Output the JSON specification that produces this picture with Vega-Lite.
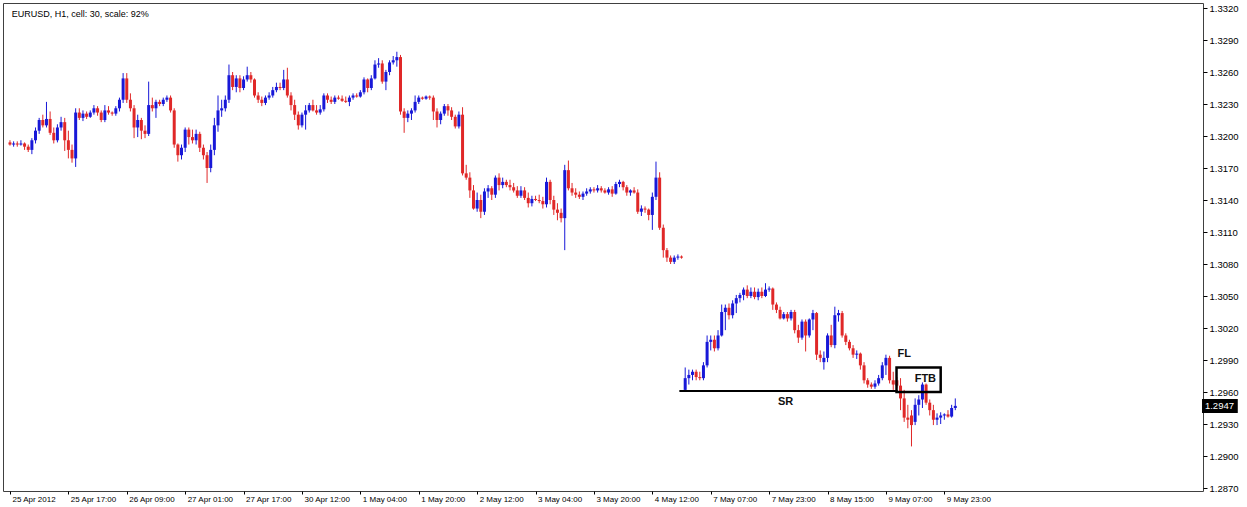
{
"$schema": "https://vega.github.io/schema/vega-lite/v6.json",
"width": 1200, "height": 488,
"autosize": {"type": "none"},
"padding": {"left": 3, "top": 3, "right": 44, "bottom": 16},
"background": "white",
"config": {"view": {"stroke": "#404040", "strokeWidth": 1}, "font": "Liberation Sans", "axis": {"labelOverlap": false}},
"datasets": {
"bars": [
{"i":0,"o":1.3194,"h":1.3196,"l":1.3191,"c":1.3192},
{"i":1,"o":1.3192,"h":1.3195,"l":1.3190,"c":1.3193},
{"i":2,"o":1.3193,"h":1.3195,"l":1.3190,"c":1.3192},
{"i":3,"o":1.3192,"h":1.3196,"l":1.3191,"c":1.3193},
{"i":4,"o":1.3193,"h":1.3194,"l":1.3187,"c":1.3190},
{"i":5,"o":1.3190,"h":1.3192,"l":1.3185,"c":1.3187},
{"i":6,"o":1.3187,"h":1.3198,"l":1.3183,"c":1.3196},
{"i":7,"o":1.3196,"h":1.3208,"l":1.3193,"c":1.3205},
{"i":8,"o":1.3205,"h":1.3217,"l":1.3202,"c":1.3215},
{"i":9,"o":1.3215,"h":1.3220,"l":1.3208,"c":1.3210},
{"i":10,"o":1.3210,"h":1.3232,"l":1.3208,"c":1.3216},
{"i":11,"o":1.3216,"h":1.3223,"l":1.3201,"c":1.3203},
{"i":12,"o":1.3203,"h":1.3208,"l":1.3193,"c":1.3196},
{"i":13,"o":1.3196,"h":1.3211,"l":1.3194,"c":1.3208},
{"i":14,"o":1.3208,"h":1.3218,"l":1.3205,"c":1.3213},
{"i":15,"o":1.3213,"h":1.3217,"l":1.3186,"c":1.3196},
{"i":16,"o":1.3196,"h":1.3205,"l":1.3179,"c":1.3187},
{"i":17,"o":1.3187,"h":1.3192,"l":1.3175,"c":1.3179},
{"i":18,"o":1.3179,"h":1.3226,"l":1.3171,"c":1.3222},
{"i":19,"o":1.3222,"h":1.3226,"l":1.3215,"c":1.3217},
{"i":20,"o":1.3217,"h":1.3224,"l":1.3214,"c":1.3221},
{"i":21,"o":1.3221,"h":1.3223,"l":1.3216,"c":1.3218},
{"i":22,"o":1.3218,"h":1.3224,"l":1.3217,"c":1.3222},
{"i":23,"o":1.3222,"h":1.3229,"l":1.3220,"c":1.3226},
{"i":24,"o":1.3226,"h":1.3228,"l":1.3219,"c":1.3222},
{"i":25,"o":1.3222,"h":1.3224,"l":1.3213,"c":1.3215},
{"i":26,"o":1.3215,"h":1.3229,"l":1.3213,"c":1.3224},
{"i":27,"o":1.3224,"h":1.3228,"l":1.3220,"c":1.3222},
{"i":28,"o":1.3222,"h":1.3223,"l":1.3219,"c":1.3221},
{"i":29,"o":1.3221,"h":1.3228,"l":1.3219,"c":1.3226},
{"i":30,"o":1.3226,"h":1.3236,"l":1.3223,"c":1.3234},
{"i":31,"o":1.3234,"h":1.3259,"l":1.3231,"c":1.3254},
{"i":32,"o":1.3254,"h":1.3259,"l":1.3231,"c":1.3234},
{"i":33,"o":1.3234,"h":1.3240,"l":1.3223,"c":1.3226},
{"i":34,"o":1.3226,"h":1.3229,"l":1.3198,"c":1.3208},
{"i":35,"o":1.3208,"h":1.3220,"l":1.3199,"c":1.3215},
{"i":36,"o":1.3215,"h":1.3217,"l":1.3197,"c":1.3205},
{"i":37,"o":1.3205,"h":1.3210,"l":1.3198,"c":1.3202},
{"i":38,"o":1.3202,"h":1.3251,"l":1.3200,"c":1.3229},
{"i":39,"o":1.3229,"h":1.3236,"l":1.3223,"c":1.3226},
{"i":40,"o":1.3226,"h":1.3234,"l":1.3217,"c":1.3232},
{"i":41,"o":1.3232,"h":1.3234,"l":1.3228,"c":1.3230},
{"i":42,"o":1.3230,"h":1.3236,"l":1.3228,"c":1.3234},
{"i":43,"o":1.3234,"h":1.3238,"l":1.3232,"c":1.3236},
{"i":44,"o":1.3236,"h":1.3238,"l":1.3222,"c":1.3224},
{"i":45,"o":1.3224,"h":1.3226,"l":1.3189,"c":1.3192},
{"i":46,"o":1.3192,"h":1.3193,"l":1.3176,"c":1.3182},
{"i":47,"o":1.3182,"h":1.3192,"l":1.3178,"c":1.3189},
{"i":48,"o":1.3189,"h":1.3208,"l":1.3185,"c":1.3206},
{"i":49,"o":1.3206,"h":1.3208,"l":1.3192,"c":1.3199},
{"i":50,"o":1.3199,"h":1.3206,"l":1.3193,"c":1.3196},
{"i":51,"o":1.3196,"h":1.3206,"l":1.3192,"c":1.3202},
{"i":52,"o":1.3202,"h":1.3204,"l":1.3185,"c":1.3189},
{"i":53,"o":1.3189,"h":1.3192,"l":1.3178,"c":1.3182},
{"i":54,"o":1.3182,"h":1.3185,"l":1.3156,"c":1.3170},
{"i":55,"o":1.3170,"h":1.3192,"l":1.3166,"c":1.3187},
{"i":56,"o":1.3187,"h":1.3217,"l":1.3182,"c":1.3210},
{"i":57,"o":1.3210,"h":1.3238,"l":1.3204,"c":1.3224},
{"i":58,"o":1.3224,"h":1.3234,"l":1.3218,"c":1.3226},
{"i":59,"o":1.3226,"h":1.3238,"l":1.3223,"c":1.3234},
{"i":60,"o":1.3234,"h":1.3267,"l":1.3231,"c":1.3257},
{"i":61,"o":1.3257,"h":1.3260,"l":1.3243,"c":1.3246},
{"i":62,"o":1.3246,"h":1.3257,"l":1.3241,"c":1.3254},
{"i":63,"o":1.3254,"h":1.3257,"l":1.3241,"c":1.3245},
{"i":64,"o":1.3245,"h":1.3256,"l":1.3243,"c":1.3253},
{"i":65,"o":1.3253,"h":1.3265,"l":1.3251,"c":1.3257},
{"i":66,"o":1.3257,"h":1.3260,"l":1.3250,"c":1.3253},
{"i":67,"o":1.3253,"h":1.3254,"l":1.3236,"c":1.3238},
{"i":68,"o":1.3238,"h":1.3241,"l":1.3231,"c":1.3234},
{"i":69,"o":1.3234,"h":1.3237,"l":1.3228,"c":1.3231},
{"i":70,"o":1.3231,"h":1.3238,"l":1.3229,"c":1.3236},
{"i":71,"o":1.3236,"h":1.3241,"l":1.3234,"c":1.3238},
{"i":72,"o":1.3238,"h":1.3246,"l":1.3236,"c":1.3243},
{"i":73,"o":1.3243,"h":1.3250,"l":1.3241,"c":1.3246},
{"i":74,"o":1.3246,"h":1.3250,"l":1.3243,"c":1.3245},
{"i":75,"o":1.3245,"h":1.3262,"l":1.3243,"c":1.3253},
{"i":76,"o":1.3253,"h":1.3264,"l":1.3236,"c":1.3238},
{"i":77,"o":1.3238,"h":1.3241,"l":1.3224,"c":1.3229},
{"i":78,"o":1.3229,"h":1.3234,"l":1.3215,"c":1.3220},
{"i":79,"o":1.3220,"h":1.3223,"l":1.3206,"c":1.3210},
{"i":80,"o":1.3210,"h":1.3222,"l":1.3208,"c":1.3220},
{"i":81,"o":1.3220,"h":1.3229,"l":1.3206,"c":1.3224},
{"i":82,"o":1.3224,"h":1.3231,"l":1.3222,"c":1.3229},
{"i":83,"o":1.3229,"h":1.3234,"l":1.3223,"c":1.3224},
{"i":84,"o":1.3224,"h":1.3229,"l":1.3220,"c":1.3222},
{"i":85,"o":1.3222,"h":1.3229,"l":1.3220,"c":1.3225},
{"i":86,"o":1.3225,"h":1.3240,"l":1.3223,"c":1.3238},
{"i":87,"o":1.3238,"h":1.3240,"l":1.3231,"c":1.3234},
{"i":88,"o":1.3234,"h":1.3237,"l":1.3230,"c":1.3232},
{"i":89,"o":1.3232,"h":1.3238,"l":1.3230,"c":1.3236},
{"i":90,"o":1.3236,"h":1.3238,"l":1.3234,"c":1.3235},
{"i":91,"o":1.3235,"h":1.3238,"l":1.3232,"c":1.3233},
{"i":92,"o":1.3233,"h":1.3237,"l":1.3231,"c":1.3232},
{"i":93,"o":1.3232,"h":1.3238,"l":1.3228,"c":1.3236},
{"i":94,"o":1.3236,"h":1.3240,"l":1.3234,"c":1.3238},
{"i":95,"o":1.3238,"h":1.3240,"l":1.3236,"c":1.3237},
{"i":96,"o":1.3237,"h":1.3243,"l":1.3236,"c":1.3241},
{"i":97,"o":1.3241,"h":1.3255,"l":1.3239,"c":1.3253},
{"i":98,"o":1.3253,"h":1.3254,"l":1.3241,"c":1.3245},
{"i":99,"o":1.3245,"h":1.3257,"l":1.3243,"c":1.3254},
{"i":100,"o":1.3254,"h":1.3271,"l":1.3253,"c":1.3267},
{"i":101,"o":1.3267,"h":1.3273,"l":1.3264,"c":1.3268},
{"i":102,"o":1.3268,"h":1.3271,"l":1.3249,"c":1.3251},
{"i":103,"o":1.3251,"h":1.3262,"l":1.3243,"c":1.3260},
{"i":104,"o":1.3260,"h":1.3271,"l":1.3257,"c":1.3269},
{"i":105,"o":1.3269,"h":1.3275,"l":1.3267,"c":1.3271},
{"i":106,"o":1.3271,"h":1.3279,"l":1.3265,"c":1.3274},
{"i":107,"o":1.3274,"h":1.3276,"l":1.3220,"c":1.3223},
{"i":108,"o":1.3223,"h":1.3226,"l":1.3203,"c":1.3217},
{"i":109,"o":1.3217,"h":1.3224,"l":1.3213,"c":1.3221},
{"i":110,"o":1.3221,"h":1.3226,"l":1.3215,"c":1.3224},
{"i":111,"o":1.3224,"h":1.3238,"l":1.3222,"c":1.3232},
{"i":112,"o":1.3232,"h":1.3238,"l":1.3230,"c":1.3236},
{"i":113,"o":1.3236,"h":1.3237,"l":1.3234,"c":1.3235},
{"i":114,"o":1.3235,"h":1.3238,"l":1.3234,"c":1.3237},
{"i":115,"o":1.3237,"h":1.3238,"l":1.3234,"c":1.3236},
{"i":116,"o":1.3236,"h":1.3238,"l":1.3215,"c":1.3223},
{"i":117,"o":1.3223,"h":1.3226,"l":1.3208,"c":1.3215},
{"i":118,"o":1.3215,"h":1.3223,"l":1.3211,"c":1.3221},
{"i":119,"o":1.3221,"h":1.3230,"l":1.3219,"c":1.3228},
{"i":120,"o":1.3228,"h":1.3230,"l":1.3219,"c":1.3224},
{"i":121,"o":1.3224,"h":1.3227,"l":1.3215,"c":1.3218},
{"i":122,"o":1.3218,"h":1.3220,"l":1.3207,"c":1.3209},
{"i":123,"o":1.3209,"h":1.3223,"l":1.3207,"c":1.3220},
{"i":124,"o":1.3220,"h":1.3227,"l":1.3163,"c":1.3165},
{"i":125,"o":1.3165,"h":1.3173,"l":1.3159,"c":1.3161},
{"i":126,"o":1.3161,"h":1.3166,"l":1.3142,"c":1.3149},
{"i":127,"o":1.3149,"h":1.3154,"l":1.3131,"c":1.3132},
{"i":128,"o":1.3132,"h":1.3147,"l":1.3129,"c":1.3140},
{"i":129,"o":1.3140,"h":1.3145,"l":1.3123,"c":1.3129},
{"i":130,"o":1.3129,"h":1.3151,"l":1.3126,"c":1.3148},
{"i":131,"o":1.3148,"h":1.3154,"l":1.3142,"c":1.3151},
{"i":132,"o":1.3151,"h":1.3153,"l":1.3140,"c":1.3145},
{"i":133,"o":1.3145,"h":1.3163,"l":1.3142,"c":1.3161},
{"i":134,"o":1.3161,"h":1.3165,"l":1.3149,"c":1.3154},
{"i":135,"o":1.3154,"h":1.3161,"l":1.3151,"c":1.3157},
{"i":136,"o":1.3157,"h":1.3159,"l":1.3152,"c":1.3154},
{"i":137,"o":1.3154,"h":1.3159,"l":1.3149,"c":1.3152},
{"i":138,"o":1.3152,"h":1.3156,"l":1.3147,"c":1.3149},
{"i":139,"o":1.3149,"h":1.3153,"l":1.3142,"c":1.3144},
{"i":140,"o":1.3144,"h":1.3153,"l":1.3142,"c":1.3149},
{"i":141,"o":1.3149,"h":1.3152,"l":1.3140,"c":1.3142},
{"i":142,"o":1.3142,"h":1.3147,"l":1.3133,"c":1.3137},
{"i":143,"o":1.3137,"h":1.3144,"l":1.3134,"c":1.3141},
{"i":144,"o":1.3141,"h":1.3144,"l":1.3139,"c":1.3140},
{"i":145,"o":1.3140,"h":1.3145,"l":1.3137,"c":1.3139},
{"i":146,"o":1.3139,"h":1.3143,"l":1.3132,"c":1.3136},
{"i":147,"o":1.3136,"h":1.3161,"l":1.3133,"c":1.3157},
{"i":148,"o":1.3157,"h":1.3159,"l":1.3136,"c":1.3140},
{"i":149,"o":1.3140,"h":1.3144,"l":1.3126,"c":1.3131},
{"i":150,"o":1.3131,"h":1.3137,"l":1.3121,"c":1.3128},
{"i":151,"o":1.3128,"h":1.3132,"l":1.3119,"c":1.3123},
{"i":152,"o":1.3123,"h":1.3173,"l":1.3093,"c":1.3168},
{"i":153,"o":1.3168,"h":1.3177,"l":1.3149,"c":1.3151},
{"i":154,"o":1.3151,"h":1.3156,"l":1.3144,"c":1.3147},
{"i":155,"o":1.3147,"h":1.3151,"l":1.3142,"c":1.3145},
{"i":156,"o":1.3145,"h":1.3148,"l":1.3141,"c":1.3143},
{"i":157,"o":1.3143,"h":1.3148,"l":1.3140,"c":1.3146},
{"i":158,"o":1.3146,"h":1.3151,"l":1.3144,"c":1.3148},
{"i":159,"o":1.3148,"h":1.3152,"l":1.3146,"c":1.3150},
{"i":160,"o":1.3150,"h":1.3152,"l":1.3147,"c":1.3149},
{"i":161,"o":1.3149,"h":1.3154,"l":1.3147,"c":1.3151},
{"i":162,"o":1.3151,"h":1.3153,"l":1.3147,"c":1.3149},
{"i":163,"o":1.3149,"h":1.3151,"l":1.3146,"c":1.3147},
{"i":164,"o":1.3147,"h":1.3152,"l":1.3145,"c":1.3150},
{"i":165,"o":1.3150,"h":1.3153,"l":1.3143,"c":1.3146},
{"i":166,"o":1.3146,"h":1.3157,"l":1.3145,"c":1.3155},
{"i":167,"o":1.3155,"h":1.3159,"l":1.3152,"c":1.3157},
{"i":168,"o":1.3157,"h":1.3158,"l":1.3149,"c":1.3152},
{"i":169,"o":1.3152,"h":1.3154,"l":1.3144,"c":1.3147},
{"i":170,"o":1.3147,"h":1.3150,"l":1.3144,"c":1.3149},
{"i":171,"o":1.3149,"h":1.3152,"l":1.3146,"c":1.3147},
{"i":172,"o":1.3147,"h":1.3150,"l":1.3127,"c":1.3129},
{"i":173,"o":1.3129,"h":1.3135,"l":1.3125,"c":1.3132},
{"i":174,"o":1.3132,"h":1.3134,"l":1.3128,"c":1.3131},
{"i":175,"o":1.3131,"h":1.3132,"l":1.3121,"c":1.3126},
{"i":176,"o":1.3126,"h":1.3147,"l":1.3112,"c":1.3143},
{"i":177,"o":1.3143,"h":1.3176,"l":1.3140,"c":1.3161},
{"i":178,"o":1.3161,"h":1.3166,"l":1.3112,"c":1.3114},
{"i":179,"o":1.3114,"h":1.3117,"l":1.3086,"c":1.3093},
{"i":180,"o":1.3093,"h":1.3095,"l":1.3082,"c":1.3086},
{"i":181,"o":1.3086,"h":1.3088,"l":1.3080,"c":1.3082},
{"i":182,"o":1.3082,"h":1.3088,"l":1.3080,"c":1.3086},
{"i":183,"o":1.3086,"h":1.3089,"l":1.3084,"c":1.3087},
{"i":184,"o":1.3087,"h":1.3088,"l":1.3085,"c":1.3086},
{"i":185,"o":1.2962,"h":1.2983,"l":1.2960,"c":1.2973},
{"i":186,"o":1.2973,"h":1.2981,"l":1.2967,"c":1.2976},
{"i":187,"o":1.2976,"h":1.2981,"l":1.2971,"c":1.2979},
{"i":188,"o":1.2979,"h":1.2981,"l":1.2971,"c":1.2974},
{"i":189,"o":1.2974,"h":1.2979,"l":1.2971,"c":1.2973},
{"i":190,"o":1.2973,"h":1.2988,"l":1.2971,"c":1.2985},
{"i":191,"o":1.2985,"h":1.3013,"l":1.2983,"c":1.3007},
{"i":192,"o":1.3007,"h":1.3013,"l":1.2999,"c":1.3009},
{"i":193,"o":1.3009,"h":1.3013,"l":1.2998,"c":1.3001},
{"i":194,"o":1.3001,"h":1.3018,"l":1.2999,"c":1.3013},
{"i":195,"o":1.3013,"h":1.3042,"l":1.3012,"c":1.3035},
{"i":196,"o":1.3035,"h":1.3042,"l":1.3018,"c":1.3039},
{"i":197,"o":1.3039,"h":1.3043,"l":1.3028,"c":1.3032},
{"i":198,"o":1.3032,"h":1.3046,"l":1.3029,"c":1.3043},
{"i":199,"o":1.3043,"h":1.3051,"l":1.3034,"c":1.3048},
{"i":200,"o":1.3048,"h":1.3053,"l":1.3044,"c":1.3051},
{"i":201,"o":1.3051,"h":1.3058,"l":1.3046,"c":1.3056},
{"i":202,"o":1.3056,"h":1.3060,"l":1.3048,"c":1.3050},
{"i":203,"o":1.3050,"h":1.3058,"l":1.3048,"c":1.3054},
{"i":204,"o":1.3054,"h":1.3058,"l":1.3047,"c":1.3049},
{"i":205,"o":1.3049,"h":1.3057,"l":1.3046,"c":1.3054},
{"i":206,"o":1.3054,"h":1.3058,"l":1.3048,"c":1.3050},
{"i":207,"o":1.3050,"h":1.3062,"l":1.3049,"c":1.3056},
{"i":208,"o":1.3056,"h":1.3059,"l":1.3054,"c":1.3057},
{"i":209,"o":1.3057,"h":1.3058,"l":1.3037,"c":1.3042},
{"i":210,"o":1.3042,"h":1.3044,"l":1.3034,"c":1.3037},
{"i":211,"o":1.3037,"h":1.3040,"l":1.3028,"c":1.3029},
{"i":212,"o":1.3029,"h":1.3035,"l":1.3028,"c":1.3033},
{"i":213,"o":1.3033,"h":1.3035,"l":1.3026,"c":1.3029},
{"i":214,"o":1.3029,"h":1.3037,"l":1.3027,"c":1.3035},
{"i":215,"o":1.3035,"h":1.3037,"l":1.3015,"c":1.3018},
{"i":216,"o":1.3018,"h":1.3023,"l":1.3006,"c":1.3011},
{"i":217,"o":1.3011,"h":1.3028,"l":1.3009,"c":1.3026},
{"i":218,"o":1.3026,"h":1.3028,"l":1.2998,"c":1.3013},
{"i":219,"o":1.3013,"h":1.3029,"l":1.3011,"c":1.3028},
{"i":220,"o":1.3028,"h":1.3037,"l":1.3018,"c":1.3034},
{"i":221,"o":1.3034,"h":1.3035,"l":1.2990,"c":1.2995},
{"i":222,"o":1.2995,"h":1.2999,"l":1.2988,"c":1.2992},
{"i":223,"o":1.2988,"h":1.2998,"l":1.2981,"c":1.2992},
{"i":224,"o":1.2992,"h":1.3015,"l":1.2988,"c":1.3013},
{"i":225,"o":1.3013,"h":1.3023,"l":1.3002,"c":1.3004},
{"i":226,"o":1.3004,"h":1.3040,"l":1.3001,"c":1.3032},
{"i":227,"o":1.3032,"h":1.3037,"l":1.3026,"c":1.3034},
{"i":228,"o":1.3034,"h":1.3036,"l":1.3011,"c":1.3013},
{"i":229,"o":1.3013,"h":1.3015,"l":1.3004,"c":1.3007},
{"i":230,"o":1.3007,"h":1.3009,"l":1.2999,"c":1.3001},
{"i":231,"o":1.3001,"h":1.3004,"l":1.2992,"c":1.2995},
{"i":232,"o":1.2995,"h":1.2999,"l":1.2991,"c":1.2996},
{"i":233,"o":1.2996,"h":1.2997,"l":1.2981,"c":1.2985},
{"i":234,"o":1.2985,"h":1.2988,"l":1.2968,"c":1.2971},
{"i":235,"o":1.2971,"h":1.2973,"l":1.2964,"c":1.2967},
{"i":236,"o":1.2967,"h":1.2969,"l":1.2963,"c":1.2965},
{"i":237,"o":1.2965,"h":1.2971,"l":1.2963,"c":1.2968},
{"i":238,"o":1.2968,"h":1.2976,"l":1.2966,"c":1.2973},
{"i":239,"o":1.2973,"h":1.2988,"l":1.2971,"c":1.2985},
{"i":240,"o":1.2985,"h":1.2995,"l":1.2976,"c":1.2992},
{"i":241,"o":1.2992,"h":1.2994,"l":1.2968,"c":1.2971},
{"i":242,"o":1.2971,"h":1.2979,"l":1.2962,"c":1.2967},
{"i":243,"o":1.2971,"h":1.2974,"l":1.2964,"c":1.2966},
{"i":244,"o":1.2966,"h":1.2973,"l":1.2943,"c":1.2954},
{"i":245,"o":1.2954,"h":1.2962,"l":1.2932,"c":1.2936},
{"i":246,"o":1.2936,"h":1.2948,"l":1.2926,"c":1.2934},
{"i":247,"o":1.2938,"h":1.2943,"l":1.2909,"c":1.2929},
{"i":248,"o":1.2932,"h":1.2954,"l":1.2929,"c":1.2948},
{"i":249,"o":1.2948,"h":1.2957,"l":1.2938,"c":1.2953},
{"i":250,"o":1.2953,"h":1.2969,"l":1.2945,"c":1.2967},
{"i":251,"o":1.2967,"h":1.2968,"l":1.2948,"c":1.2950},
{"i":252,"o":1.2950,"h":1.2953,"l":1.2938,"c":1.2943},
{"i":253,"o":1.2943,"h":1.2948,"l":1.2929,"c":1.2934},
{"i":254,"o":1.2934,"h":1.2940,"l":1.2929,"c":1.2936},
{"i":255,"o":1.2936,"h":1.2941,"l":1.2930,"c":1.2938},
{"i":256,"o":1.2938,"h":1.2940,"l":1.2934,"c":1.2939},
{"i":257,"o":1.2939,"h":1.2943,"l":1.2936,"c":1.2937},
{"i":258,"o":1.2937,"h":1.2948,"l":1.2936,"c":1.2945},
{"i":259,"o":1.2945,"h":1.2954,"l":1.2943,"c":1.2947}
],
"labels": [
{"i":212.5,"p":1.2951,"t":"SR"},
{"i":245,"p":1.2996,"t":"FL"},
{"i":250.8,"p":1.2972,"t":"FTB"}
]
},
"layer": [
{
"mark": {"type": "rule", "color": "#c4c4c4", "strokeWidth": 1},
"encoding": {"y": {"datum": 1.2947, "type": "quantitative",
"scale": {"domain": [1.28672, 1.33247], "nice": false, "zero": false},
"axis": {"orient": "right", "values": [1.287,1.29,1.293,1.296,1.299,1.302,1.305,1.308,1.311,1.314,1.317,1.32,1.323,1.326,1.329,1.332],
"tickCount": 40,
"format": ".4f", "labelFontSize": 9.5, "labelColor": "#000000", "labelFont": "Liberation Sans",
"tickSize": 4, "tickColor": "#000000", "labelPadding": 2, "domain": false, "grid": false, "title": null,
"labelOverlap": false, "labelFlush": false}}}
},
{
"data": {"name": "bars"},
"mark": {"type": "rule", "strokeWidth": 1},
"encoding": {
"x": {"field": "i", "type": "quantitative",
"scale": {"domain": [-0.54, 325.5], "nice": false, "zero": false},
"axis": {"orient": "bottom", "values": [0,16,32,48,64,80,96,112,128,144,160,176,192,208,224,240,256],
"tickCount": 40,
"labelExpr": "['25 Apr 2012','25 Apr 17:00','26 Apr 09:00','27 Apr 01:00','27 Apr 17:00','30 Apr 12:00','1 May 04:00','1 May 20:00','2 May 12:00','3 May 04:00','3 May 20:00','4 May 12:00','7 May 07:00','7 May 23:00','8 May 15:00','9 May 07:00','9 May 23:00'][round(datum.value/16)]",
"labelAlign": "left", "labelOffset": 2, "labelBaseline": "top", "labelPadding": 1,
"labelFontSize": 8, "labelColor": "#000000", "labelFont": "Liberation Sans",
"tickSize": 3, "tickColor": "#000000", "domain": false, "grid": false, "title": null,
"labelOverlap": false, "labelBound": false, "labelFlush": false}},
"y": {"field": "l", "type": "quantitative"},
"y2": {"field": "h"},
"color": {"condition": {"test": "datum.c >= datum.o", "value": "#1818d8"}, "value": "#e02828"}
}
},
{
"data": {"name": "bars"},
"mark": {"type": "bar", "size": 3},
"encoding": {
"x": {"field": "i", "type": "quantitative"},
"y": {"field": "o", "type": "quantitative"},
"y2": {"field": "c"},
"color": {"condition": {"test": "datum.c >= datum.o", "value": "#1818d8"}, "value": "#e02828"}
}
},
{
"data": {"values": [{"a": 183.4, "b": 243.2, "p": 1.2961}]},
"mark": {"type": "rule", "color": "#000000", "strokeWidth": 2},
"encoding": {"x": {"field": "a", "type": "quantitative"}, "x2": {"field": "b"}, "y": {"field": "p", "type": "quantitative"}}
},
{
"data": {"values": [{"a": 242.9, "b": 255.0, "p1": 1.2983, "p2": 1.2960}]},
"mark": {"type": "rect", "fill": null, "fillOpacity": 0, "stroke": "#000000", "strokeWidth": 2.5},
"encoding": {"x": {"field": "a", "type": "quantitative"}, "x2": {"field": "b"}, "y": {"field": "p1", "type": "quantitative"}, "y2": {"field": "p2"}}
},
{
"data": {"name": "labels"},
"mark": {"type": "text", "font": "Liberation Sans", "fontSize": 11, "fontWeight": "bold", "color": "#111111", "align": "center", "baseline": "middle"},
"encoding": {"x": {"field": "i", "type": "quantitative"}, "y": {"field": "p", "type": "quantitative"}, "text": {"field": "t"}}
},
{
"data": {"values": [{"i": 0.5, "p": 1.3314, "t": "EURUSD, H1, cell: 30, scale: 92%"}]},
"mark": {"type": "text", "font": "Liberation Sans", "fontSize": 9, "color": "#000000", "align": "left", "baseline": "middle"},
"encoding": {"x": {"field": "i", "type": "quantitative"}, "y": {"field": "p", "type": "quantitative"}, "text": {"field": "t"}}
},
{
"data": {"values": [{"a": 326.6, "b": 336.4, "p1": 1.29534, "p2": 1.29403}]},
"mark": {"type": "rect", "color": "#000000"},
"encoding": {"x": {"field": "a", "type": "quantitative"}, "x2": {"field": "b"}, "y": {"field": "p1", "type": "quantitative"}, "y2": {"field": "p2"}}
},
{
"data": {"values": [{"i": 327.4, "p": 1.2947, "t": "1.2947"}]},
"mark": {"type": "text", "font": "Liberation Sans", "fontSize": 9.5, "color": "#ffffff", "align": "left", "baseline": "middle"},
"encoding": {"x": {"field": "i", "type": "quantitative"}, "y": {"field": "p", "type": "quantitative"}, "text": {"field": "t"}}
}
]
}
